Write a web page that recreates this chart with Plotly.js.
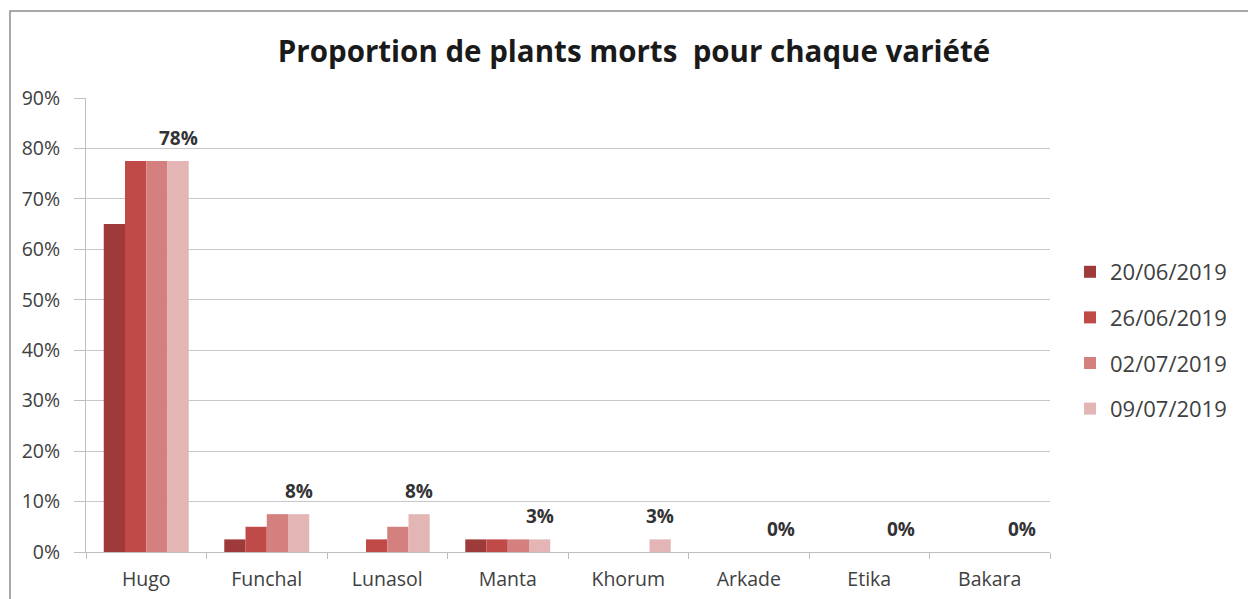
<!DOCTYPE html>
<html>
<head>
<meta charset="utf-8">
<script src="https://cdn.plot.ly/plotly-3.0.1.min.js"></script>
<style>
  html, body { margin: 0; padding: 0; background: #ffffff; }
  #chart { width: 1248px; height: 599px; }
</style>
</head>
<body>
<div id="chart"></div>
<script>
// ---- data ----
const categories = ["Hugo", "Funchal", "Lunasol", "Manta", "Khorum", "Arkade", "Etika", "Bakara"];
const seriesNames = ["20/06/2019", "26/06/2019", "02/07/2019", "09/07/2019"];
const s20_06 = [0.650, 0.025, 0.000, 0.025, 0.000, 0, 0, 0];
const s26_06 = [0.775, 0.050, 0.025, 0.025, 0.000, 0, 0, 0];
const s02_07 = [0.775, 0.075, 0.050, 0.025, 0.000, 0, 0, 0];
const s09_07 = [0.775, 0.075, 0.075, 0.025, 0.025, 0, 0, 0];
const yTickVals = [0, 0.1, 0.2, 0.3, 0.4, 0.5, 0.6, 0.7, 0.8, 0.9];

// ---- styling ----
const colors = ["#9e3a3a", "#bf4a48", "#d4807e", "#e3b5b4"];
const FONT = "Open Sans, Liberation Sans, sans-serif";
const W = 1248, H = 599;
const M = {l: 86, r: 198, t: 98, b: 47, pad: 0};
const plotW = W - M.l - M.r, plotH = H - M.t - M.b;
const bargap = 0.295;

const allSeries = [s20_06, s26_06, s02_07, s09_07];
const traces = allSeries.map((vals, i) => ({
  type: "bar",
  name: seriesNames[i],
  x: categories,
  y: vals,
  legendgroup: "g" + i,
  marker: {color: colors[i], line: {width: 0}},
  hoverinfo: "x+y+name"
}));

// data labels on last series (above 4th bar of each group)
const catW = plotW / categories.length;
const barW = catW * (1 - bargap) / allSeries.length;
const lastOffset = 1.5 * barW;
const annotations = categories.map((c, k) => ({
  x: c, y: s09_07[k], xref: "x", yref: "y",
  text: Math.round(s09_07[k] * 100) + "%",
  showarrow: false,
  xanchor: "center", yanchor: "middle",
  xshift: lastOffset, yshift: 23,
  font: {family: FONT, size: 19, color: "#333333", weight: "bold"}
}));

// outer frame (paper coords derived from pixels)
const px2x = p => (p - M.l) / plotW;
const py2y = p => (H - M.b - p) / plotH;
const shapes = [{
  type: "rect", xref: "paper", yref: "paper",
  x0: px2x(10), x1: px2x(W + 5), y0: py2y(H + 5), y1: py2y(11),
  line: {color: "#8c8c8c", width: 1.5}, fillcolor: "rgba(0,0,0,0)", layer: "below"
}];

const layout = {
  width: W, height: H,
  margin: M,
  paper_bgcolor: "#ffffff",
  plot_bgcolor: "#ffffff",
  barmode: "group",
  bargap: bargap,
  bargroupgap: 0,
  title: {
    text: "Proportion de plants morts  pour chaque variété",
    font: {family: FONT, size: 29.5, color: "#1a1a1a", weight: "bold"},
    x: 634 / W, xref: "container", xanchor: "center",
    y: 1 - 52 / H, yref: "container", yanchor: "middle"
  },
  xaxis: {
    type: "category",
    tickson: "boundaries",
    ticks: "outside", ticklen: 6, tickcolor: "#bfbfbf", tickwidth: 1,
    showline: true, linecolor: "#bfbfbf", linewidth: 1,
    showgrid: false, zeroline: false,
    tickfont: {family: FONT, size: 19.5, color: "#404040"},
    ticklabelstandoff: 10,
    fixedrange: true
  },
  yaxis: {
    range: [0, 0.9],
    tickvals: yTickVals,
    tickformat: ".0%",
    ticks: "outside", ticklen: 11, tickcolor: "#bfbfbf", tickwidth: 1,
    showline: true, linecolor: "#bfbfbf", linewidth: 1,
    showgrid: true, gridcolor: "#c8c8c8", gridwidth: 1,
    zeroline: false,
    tickfont: {family: FONT, size: 19.5, color: "#404040"},
    ticklabelstandoff: 10,
    fixedrange: true
  },
  legend: {
    x: px2x(1070), xanchor: "left",
    y: py2y(251), yanchor: "top",
    traceorder: "grouped",
    tracegroupgap: 14,
    font: {family: FONT, size: 22, color: "#404040"},
    bgcolor: "rgba(0,0,0,0)",
    itemwidth: 30
  },
  annotations: annotations,
  shapes: shapes,
  showlegend: true
};

Plotly.newPlot("chart", traces, layout, {displayModeBar: false, staticPlot: true});
</script>
</body>
</html>
